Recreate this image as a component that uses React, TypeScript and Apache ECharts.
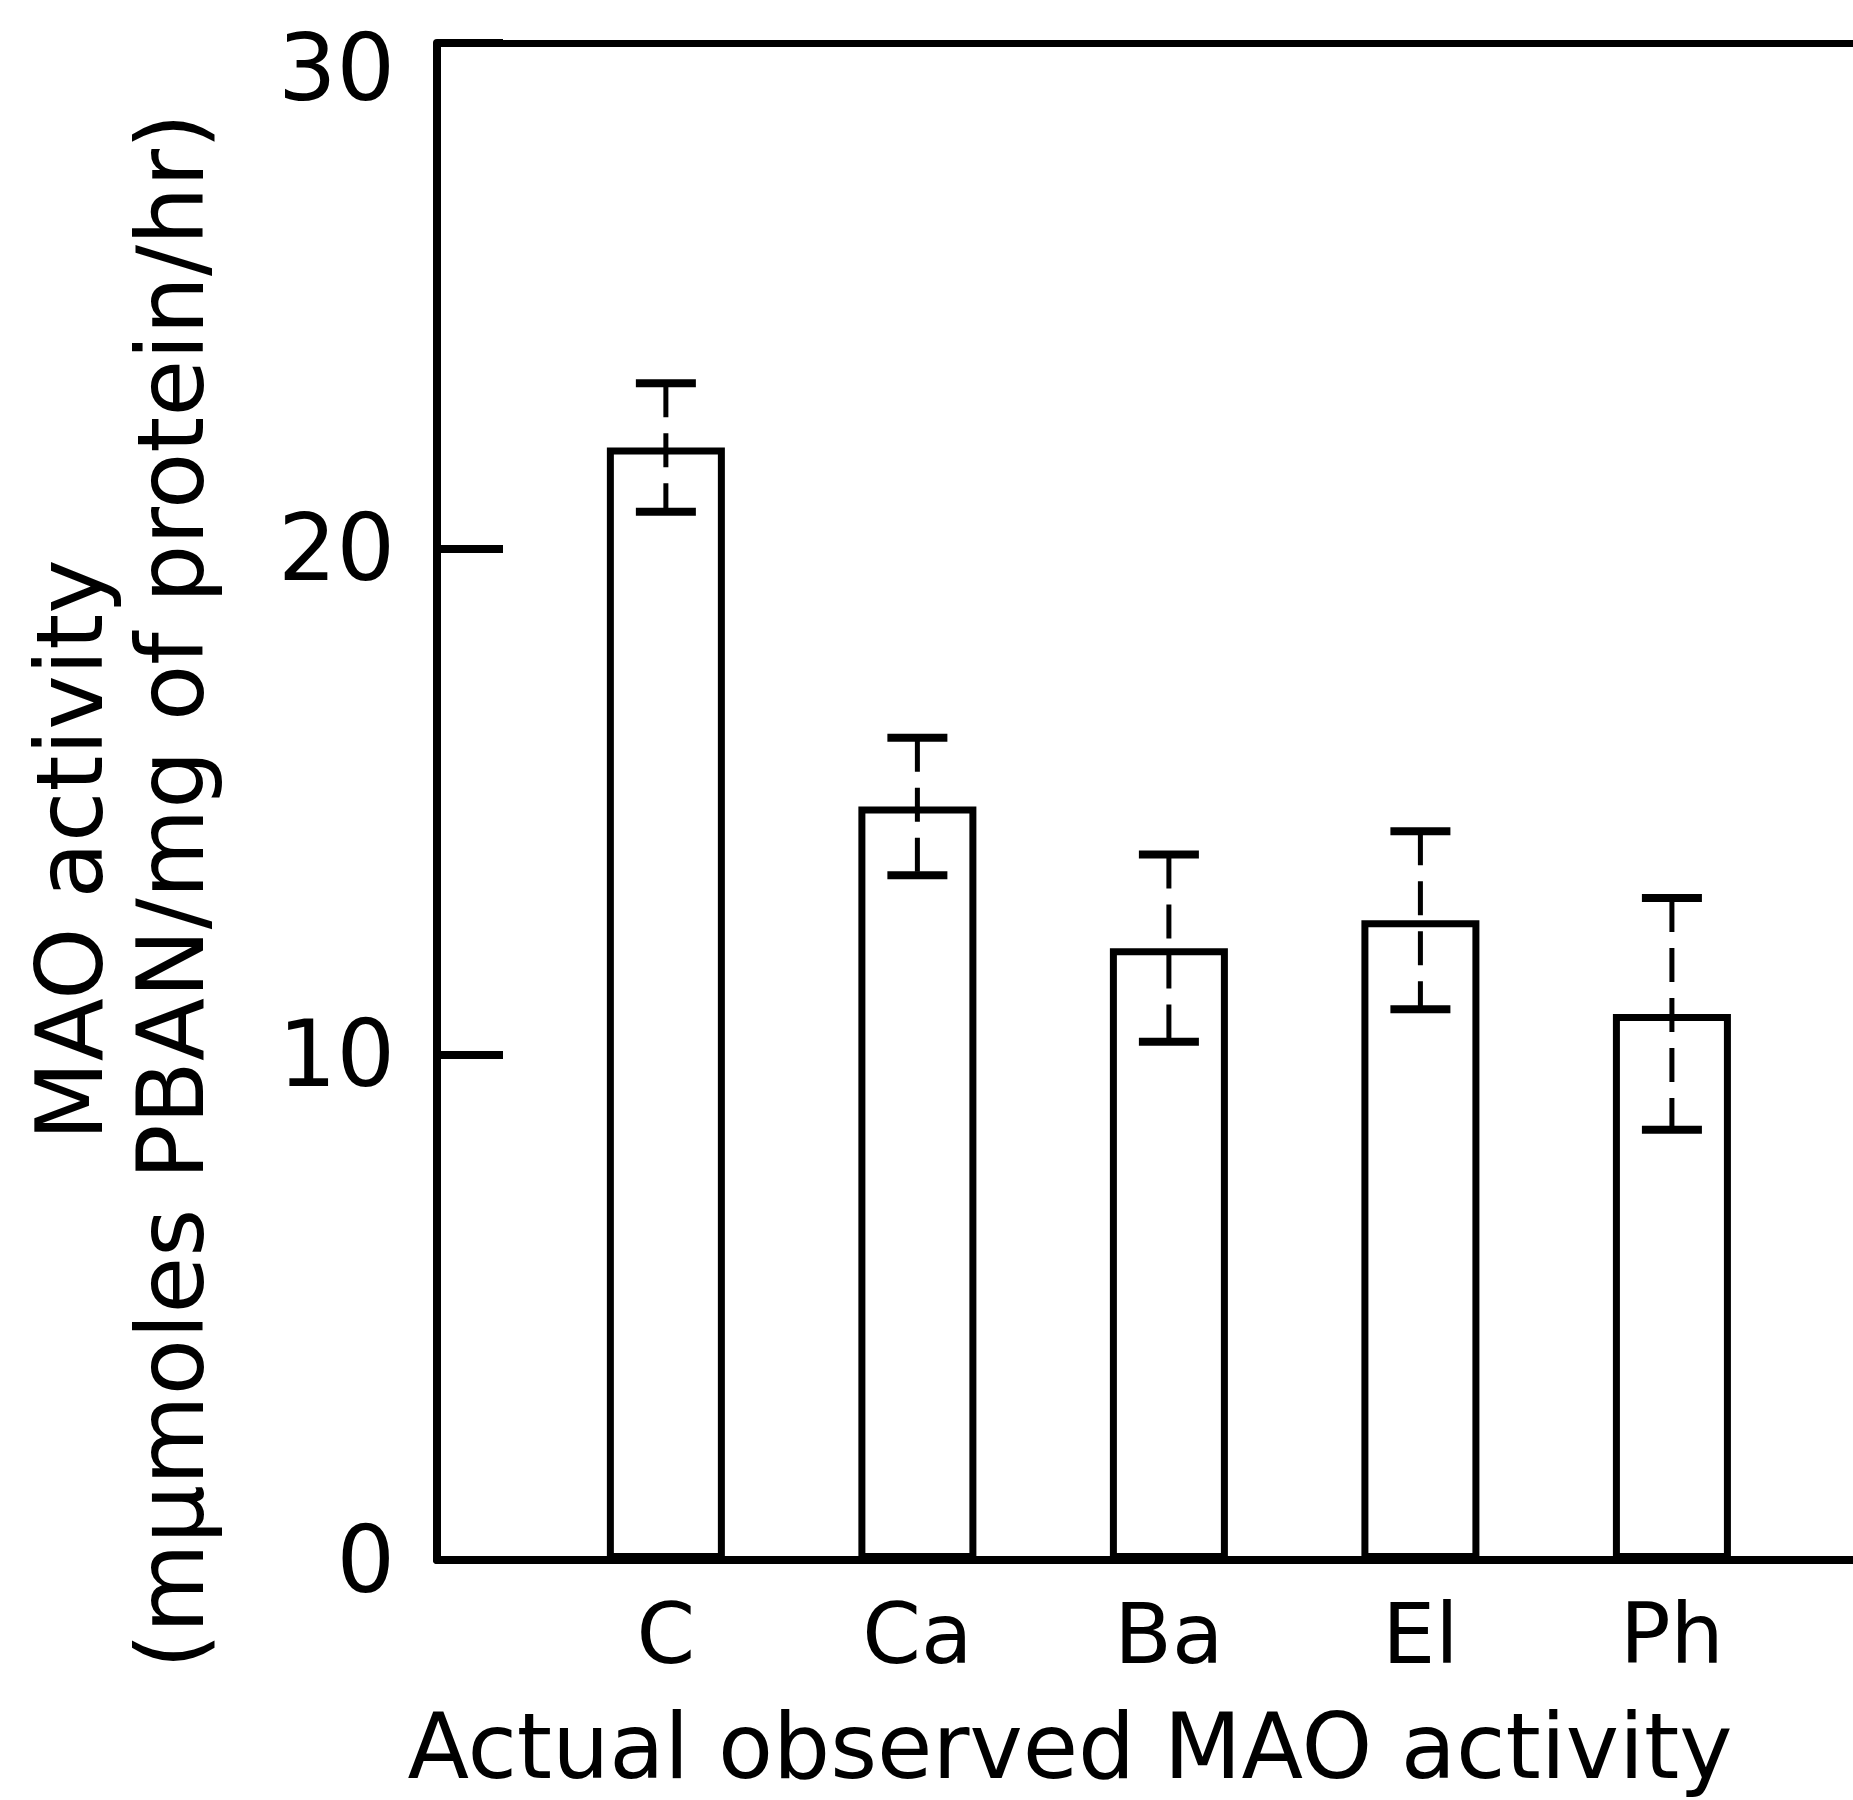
import React, { useEffect, useRef } from "react";
import * as echarts from "echarts";

const categories = ["C", "Ca", "Ba", "El", "Ph"];
const positions = [1, 2, 3, 4, 5];
const means = [22.0, 14.9, 12.1, 12.65, 10.8];
const errors = [1.27, 1.36, 1.85, 1.76, 2.29];
const yTicks = [0, 10, 20, 30];
const yTitle1 = "MAO activity";
const yTitle2 = "(mμmoles PBAN/mg of protein/hr)";
const xTitle = "Actual observed MAO activity";

const FONT = "'DejaVu Sans', 'Liberation Sans', sans-serif";

export default function App() {
  const ref = useRef<HTMLDivElement>(null);
  useEffect(() => {
    if (!ref.current) return;
    const chart = echarts.init(ref.current, null, { renderer: "svg" });
    const barData = positions.map((p, i) => [p, means[i]]);
    const errData = positions.map((p, i) => [p, means[i], errors[i]]);
    const yMax = yTicks[yTicks.length - 1];
    const option: any = {
      animation: false,
      backgroundColor: "#ffffff",
      grid: {
        left: 437,
        right: 0,
        top: 43,
        bottom: 240,
        containLabel: false,
        outerBoundsMode: "none",
      },
      xAxis: [
        {
          type: "value",
          min: 0.09,
          max: 5.72,
          splitNumber: 5,
          splitLine: { show: false },
          axisTick: { show: false },
          axisLine: { show: true, onZero: false, lineStyle: { color: "#000", width: 8 } },
          axisLabel: {
            show: true,
            customValues: positions,
            margin: 32,
            color: "#000",
            fontSize: 84,
            fontFamily: FONT,
            formatter: (v: number) => {
              const idx = Math.round(v) - 1;
              return Math.abs(v - Math.round(v)) < 1e-6 && categories[idx] ? categories[idx] : "";
            },
          },
        },
        {
          type: "value",
          position: "top",
          min: 0.09,
          max: 5.72,
          splitLine: { show: false },
          axisTick: { show: false },
          axisLabel: { show: false },
          axisLine: { show: true, onZero: false, lineStyle: { color: "#000", width: 7 } },
        },
      ],
      yAxis: {
        type: "value",
        min: 0,
        max: yMax,
        interval: 10,
        splitLine: { show: false },
        axisLine: { show: true, onZero: false, lineStyle: { color: "#000", width: 8 } },
        axisTick: { show: true, inside: true, length: 66, lineStyle: { color: "#000", width: 8 } },
        axisLabel: {
          show: true,
          margin: 42,
          color: "#000",
          fontSize: 92,
          fontFamily: FONT,
          customValues: yTicks,
          formatter: (v: number) => (v === yMax ? `{top|${v}}` : String(v)),
          rich: {
            top: { padding: [50, 0, 0, 0], fontSize: 92, fontFamily: FONT, color: "#000" },
          },
        },
      },
      series: [
        {
          type: "bar",
          data: barData,
          barWidth: 118,
          itemStyle: { color: "#ffffff", borderColor: "#000", borderWidth: 7 },
          z: 2,
        },
        {
          type: "custom",
          data: errData,
          z: 5,
          renderItem: (params: any, api: any) => {
            const x = api.value(0);
            const m = api.value(1);
            const e = api.value(2);
            const top = api.coord([x, m + e]);
            const bot = api.coord([x, m - e]);
            const hw = 30;
            return {
              type: "group",
              children: [
                {
                  type: "line",
                  shape: { x1: top[0], y1: top[1], x2: bot[0], y2: bot[1] },
                  style: { stroke: "#000", lineWidth: 5, lineDash: [34, 16] },
                },
                {
                  type: "line",
                  shape: { x1: top[0] - hw, y1: top[1], x2: top[0] + hw, y2: top[1] },
                  style: { stroke: "#000", lineWidth: 8 },
                },
                {
                  type: "line",
                  shape: { x1: bot[0] - hw, y1: bot[1], x2: bot[0] + hw, y2: bot[1] },
                  style: { stroke: "#000", lineWidth: 8 },
                },
              ],
            };
          },
        },
      ],
      graphic: [
        {
          type: "text",
          x: 70,
          y: 850,
          rotation: Math.PI / 2,
          style: {
            text: yTitle1,
            fill: "#000",
            font: `92px ${FONT}`,
            align: "center",
            verticalAlign: "middle",
          },
        },
        {
          type: "text",
          x: 171,
          y: 891,
          rotation: Math.PI / 2,
          style: {
            text: yTitle2,
            fill: "#000",
            font: `92px ${FONT}`,
            align: "center",
            verticalAlign: "middle",
          },
        },
        {
          type: "text",
          x: 1070,
          y: 1746,
          style: {
            text: xTitle,
            fill: "#000",
            font: `90px ${FONT}`,
            align: "center",
            verticalAlign: "middle",
          },
        },
      ],
    };
    chart.setOption(option);
    return () => chart.dispose();
  }, []);
  return (
    <div
      ref={ref}
      style={{ position: "absolute", left: 0, top: 0, width: 1853, height: 1800, background: "#fff" }}
    />
  );
}
